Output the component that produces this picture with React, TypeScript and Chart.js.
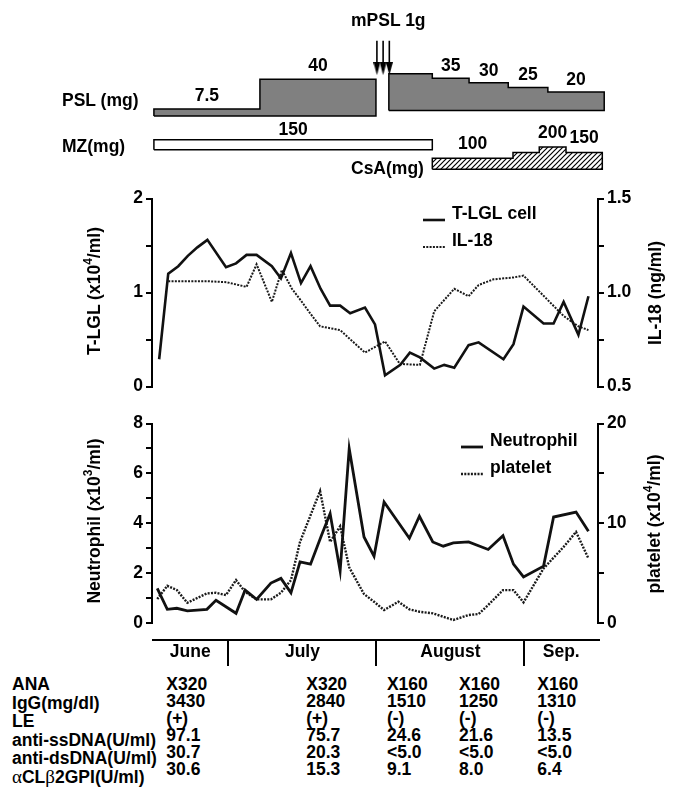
import React, { useEffect, useRef } from 'react';
import { Chart, registerables } from 'chart.js';

Chart.register(...registerables);

const FONT_FAMILY = "'Liberation Sans', Arial, Helvetica, sans-serif";
const FONT_SIZE = 17.5;
const CANVAS_FONT = `bold ${FONT_SIZE}px ${FONT_FAMILY}`;
Chart.defaults.font.family = FONT_FAMILY;
Chart.defaults.font.size = FONT_SIZE;
(Chart.defaults.font as any).weight = 'bold';
Chart.defaults.color = '#000';

/* ---------------- data (day 0 = 1 June) ---------------- */
const months = ['June', 'July', 'August', 'Sep.'];
const monthStartDays = [0, 30, 61, 92, 122];

const tlglDays = [15.5, 17.4, 19.5, 21.5, 23.5, 25.6, 29.5, 31.6, 33.8, 35.9, 39.1, 41.0, 43.1, 45.2, 47.2, 49.3, 51.3, 53.4, 55.5, 58.6, 60.7, 62.8, 66.0, 68.0, 70.1, 73.1, 75.2, 77.3, 80.3, 82.4, 87.6, 89.7, 91.8, 96.0, 98.1, 100.2, 103.3, 105.4];
const tlglValues = [0.29, 1.2, 1.28, 1.39, 1.48, 1.56, 1.27, 1.31, 1.4, 1.4, 1.28, 1.15, 1.42, 1.1, 1.28, 1.04, 0.86, 0.86, 0.78, 0.84, 0.66, 0.12, 0.23, 0.36, 0.31, 0.19, 0.23, 0.2, 0.44, 0.47, 0.29, 0.45, 0.85, 0.67, 0.67, 0.9, 0.55, 0.96];

const il18Days = [17.4, 21.5, 25.6, 29.6, 33.8, 35.9, 39.1, 41.2, 43.3, 45.1, 47.1, 49.2, 53.4, 58.6, 62.8, 65.9, 70.1, 73.1, 77.3, 80.3, 82.4, 85.5, 89.7, 91.8, 100.2, 103.3, 105.4];
const il18Values = [1.06, 1.06, 1.06, 1.055, 1.03, 1.15, 0.95, 1.12, 1.02, 0.96, 0.89, 0.82, 0.8, 0.68, 0.74, 0.62, 0.615, 0.9, 1.02, 0.98, 1.04, 1.07, 1.08, 1.09, 0.875, 0.82, 0.8];

const neutrophilDays = [15.1, 17.2, 19.2, 21.4, 25.5, 27.4, 31.6, 33.5, 35.9, 38.9, 41.0, 43.1, 45.0, 47.2, 49.5, 51.3, 53.4, 55.3, 58.4, 60.5, 62.6, 67.9, 70.0, 72.8, 75.0, 77.1, 80.3, 84.4, 87.5, 89.7, 91.8, 96.0, 98.1, 102.8, 105.4];
const neutrophilValues = [1.39, 0.55, 0.59, 0.49, 0.55, 0.91, 0.39, 1.32, 0.95, 1.6, 1.79, 1.21, 2.45, 2.36, 3.52, 4.39, 2.09, 6.99, 3.45, 2.68, 4.85, 3.4, 4.28, 3.25, 3.08, 3.21, 3.25, 2.95, 3.5, 2.36, 1.85, 2.28, 4.25, 4.45, 3.68];

const plateletDays = [15.1, 17.2, 19.2, 21.4, 25.5, 27.4, 29.5, 31.6, 33.5, 35.9, 38.9, 41.0, 43.1, 45.0, 47.2, 49.2, 51.3, 53.4, 55.3, 58.4, 60.5, 62.6, 65.6, 67.9, 70.0, 72.8, 77.1, 80.3, 82.4, 84.4, 87.5, 89.7, 91.8, 96.0, 100.2, 102.8, 105.4];
const plateletValues = [2.4, 3.73, 3.3, 2.03, 2.97, 3.03, 2.8, 4.3, 3.13, 2.37, 2.37, 3.03, 4.3, 8.13, 10.8, 13.23, 8.13, 9.7, 5.57, 2.9, 2.13, 1.3, 2.13, 1.37, 1.13, 0.97, 0.3, 0.8, 0.9, 1.8, 3.3, 3.3, 2.07, 5.47, 7.63, 9.13, 6.47];

const pslPhase1Days = [14.4, 36.6, 60.9];
const pslPhase1Doses = [7.5, 40];
const pslPhase1Labels = ['7.5', '40'];
const mpslPulseDays = [61.1, 62.4, 63.7];
const pslPhase2Days = [63.6, 72.7, 80.4, 88.6, 96.9, 108.7];
const pslPhase2Doses = [40, 35, 30, 25, 20];
const pslPhase2Labels = ['', '35', '30', '25', '20'];
const mzDays = [14.4, 72.7];
const mzDoses = [150];
const mzLabels = ['150'];
const csaDays = [72.7, 89.6, 95.1, 100.7, 108.3];
const csaDoses = [100, 150, 200, 150];
const csaLabels = ['100', '', '200', '150'];

const tableRowLabels = ['ANA', 'IgG(mg/dl)', 'LE', 'anti-ssDNA(U/ml)', 'anti-dsDNA(U/ml)', 'αCLβ2GPI(U/ml)'];
const testDays = [17.0, 46.3, 63.2, 78.3, 94.7];
const anaValues = ['X320', 'X320', 'X160', 'X160', 'X160'];
const iggValues = ['3430', '2840', '1510', '1250', '1310'];
const leValues = ['(+)', '(+)', '(-)', '(-)', '(-)'];
const antiSsDnaValues = ['97.1', '75.7', '24.6', '21.6', '13.5'];
const antiDsDnaValues = ['30.7', '20.3', '<5.0', '<5.0', '<5.0'];
const aclB2gpiValues = ['30.6', '15.3', '9.1', '8.0', '6.4'];
const tableRows = [anaValues, iggValues, leValues, antiSsDnaValues, antiDsDnaValues, aclB2gpiValues];

/* ---------------- layout ---------------- */
const W = 677;
const X_MIN = 14;
const X_MAX = 107.4;
const PLOT_LEFT = 152;
const PLOT_RIGHT = 598;
const AXIS_W = 40;
const PX_PER_DAY = (PLOT_RIGHT - PLOT_LEFT) / (X_MAX - X_MIN);
const dayToPx = (d: number) => PLOT_LEFT + (d - X_MIN) * PX_PER_DAY;

const TOP_H = 185;
const TOP_LEFT = 150;
const TOP_RIGHT = 612;
const ARROW_TOP_PX = 36;
const ARROW_TIP_PX = 73;

const xy = (xs: number[], ys: number[]) => xs.map((x, i) => ({ x, y: ys[i] }));

function stepOutline(days: number[], doses: number[]) {
  const pts = [{ x: days[0], y: 0 }];
  doses.forEach((d, i) => {
    pts.push({ x: days[i], y: d });
    pts.push({ x: days[i + 1], y: d });
  });
  pts.push({ x: days[days.length - 1], y: 0 });
  pts.push({ x: days[0], y: 0 });
  return pts;
}

// hidden axis whose value 0 sits at pixel p0, k pixels per unit
const axisFor = (p0: number, k: number) => ({
  type: 'linear' as const,
  display: false,
  min: (p0 - TOP_H) / k,
  max: p0 / k,
});

function makeTreatmentConfig(canvas: HTMLCanvasElement): any {
  const ctx = canvas.getContext('2d')!;
  const hatch = document.createElement('canvas');
  hatch.width = 5;
  hatch.height = 5;
  const h = hatch.getContext('2d')!;
  h.fillStyle = '#fff';
  h.fillRect(0, 0, 5, 5);
  h.strokeStyle = '#000';
  h.lineWidth = 1.2;
  h.beginPath();
  h.moveTo(-1, 6); h.lineTo(6, -1);
  h.moveTo(-1, 1); h.lineTo(1, -1);
  h.moveTo(4, 6); h.lineTo(6, 4);
  h.stroke();
  const pattern = ctx.createPattern(hatch, 'repeat');

  const head = document.createElement('canvas');
  head.width = 7;
  head.height = 13;
  const a = head.getContext('2d')!;
  a.fillStyle = '#000';
  a.beginPath();
  a.moveTo(0, 0); a.lineTo(7, 0); a.lineTo(3.5, 13); a.closePath();
  a.fill();

  const area = (data: any, axis: string, bg: any) => ({
    type: 'line',
    data,
    yAxisID: axis,
    fill: 'shape',
    backgroundColor: bg,
    borderColor: '#000',
    borderWidth: 1.5,
    borderJoinStyle: 'miter',
    pointRadius: 0,
    tension: 0,
  });

  const arrows = mpslPulseDays.map((d) => ({
    type: 'line',
    data: [{ x: d, y: ARROW_TOP_PX }, { x: d, y: ARROW_TIP_PX - 6.5 }],
    yAxisID: 'yPx',
    borderColor: '#000',
    borderWidth: 1.6,
    pointRadius: [0, 6],
    pointStyle: head,
    fill: false,
  }));

  const groups = [
    { days: pslPhase1Days, doses: pslPhase1Doses, labels: pslPhase1Labels, axis: 'yPsl1', off: 13 },
    { days: pslPhase2Days, doses: pslPhase2Doses, labels: pslPhase2Labels, axis: 'yPsl2', off: 12 },
    { days: mzDays, doses: mzDoses, labels: mzLabels, axis: 'yMz', off: 10 },
    { days: csaDays, doses: csaDoses, labels: csaLabels, axis: 'yCsa', off: 14 },
  ];

  const doseLabelPlugin = {
    id: 'doseLabels',
    afterDatasetsDraw(chart: any) {
      const c = chart.ctx;
      const x = chart.scales.x;
      c.save();
      c.font = CANVAS_FONT;
      c.fillStyle = '#000';
      c.textAlign = 'center';
      c.textBaseline = 'middle';
      groups.forEach((g) => {
        const ys = chart.scales[g.axis];
        g.doses.forEach((dose, i) => {
          if (!g.labels[i]) return;
          const px = x.getPixelForValue((g.days[i] + g.days[i + 1]) / 2);
          const py = ys.getPixelForValue(dose) - g.off;
          c.fillText(g.labels[i], px, py);
        });
      });
      c.restore();
    },
  };

  return {
    type: 'line',
    data: {
      datasets: [
        area(stepOutline(pslPhase1Days, pslPhase1Doses), 'yPsl1', '#808080'),
        area(stepOutline(pslPhase2Days, pslPhase2Doses), 'yPsl2', '#808080'),
        area(stepOutline(mzDays, mzDoses), 'yMz', '#ffffff'),
        area(stepOutline(csaDays, csaDoses), 'yCsa', pattern),
        ...arrows,
      ],
    },
    options: {
      responsive: false,
      animation: false,
      devicePixelRatio: 1,
      events: [],
      layout: { padding: { left: TOP_LEFT, right: W - TOP_RIGHT, top: 0, bottom: 0 } },
      scales: {
        x: {
          type: 'linear',
          display: false,
          min: X_MIN + (TOP_LEFT - PLOT_LEFT) / PX_PER_DAY,
          max: X_MIN + (TOP_RIGHT - PLOT_LEFT) / PX_PER_DAY,
        },
        yPsl1: axisFor(118, 1),
        yPsl2: axisFor(112, 1),
        yMz: axisFor(155, 11 / 150),
        yCsa: axisFor(176, 0.12),
        yPx: { type: 'linear', display: false, min: 0, max: TOP_H, reverse: true },
      },
      plugins: { legend: { display: false }, tooltip: { enabled: false } },
    },
    plugins: [doseLabelPlugin],
  };
}

const valueAxis = (position: 'left' | 'right', min: number, max: number, step: number, fmt: (v: number) => string) => ({
  type: 'linear' as const,
  position,
  min,
  max,
  ticks: {
    stepSize: step,
    autoSkip: false,
    padding: 3,
    color: '#000',
    font: { family: FONT_FAMILY, size: FONT_SIZE, weight: 'bold' as const },
    callback: (v: any) => fmt(Number(v)),
  },
  grid: { drawOnChartArea: false, drawTicks: true, tickLength: 6, color: '#000', lineWidth: 2 },
  border: { display: true, color: '#000', width: 2 },
  afterFit: (s: any) => {
    s.width = AXIS_W;
  },
});

function legendPlugin(lx: number, cy: number, gap: number) {
  return {
    id: 'customLegend',
    afterDraw(chart: any) {
      const c = chart.ctx;
      chart.data.datasets.forEach((ds: any, i: number) => {
        const y = cy + i * gap;
        c.save();
        c.strokeStyle = ds.borderColor;
        c.lineWidth = ds.borderWidth;
        c.setLineDash(ds.borderDash || []);
        c.beginPath();
        c.moveTo(lx, y + 6);
        c.lineTo(lx + 22, y + 6);
        c.stroke();
        c.setLineDash([]);
        c.font = CANVAS_FONT;
        c.fillStyle = '#000';
        c.textAlign = 'left';
        c.textBaseline = 'middle';
        c.fillText(ds.label, lx + 29, y);
        c.restore();
      });
    },
  };
}

const monthAxisPlugin = {
  id: 'monthAxis',
  afterDraw(chart: any) {
    const { ctx, chartArea } = chart;
    const x = chart.scales.x;
    const y0 = chartArea.bottom + 17;
    ctx.save();
    ctx.strokeStyle = '#000';
    ctx.lineWidth = 2;
    ctx.beginPath();
    ctx.moveTo(chartArea.left, y0);
    ctx.lineTo(chartArea.right + 2, y0);
    ctx.stroke();
    monthStartDays.forEach((d) => {
      if (d > x.min && d < x.max) {
        const px = Math.round(x.getPixelForValue(d));
        ctx.beginPath();
        ctx.moveTo(px, y0);
        ctx.lineTo(px, y0 + 26);
        ctx.stroke();
      }
    });
    ctx.font = CANVAS_FONT;
    ctx.fillStyle = '#000';
    ctx.textAlign = 'center';
    ctx.textBaseline = 'middle';
    months.forEach((m, i) => {
      const a = Math.max(monthStartDays[i], x.min);
      const b = Math.min(monthStartDays[i + 1], x.max);
      if (b > a) ctx.fillText(m, x.getPixelForValue((a + b) / 2), y0 + 12);
    });
    ctx.restore();
  },
};

const solid = (label: string, data: any, axis: string, width: number) => ({
  label,
  data,
  yAxisID: axis,
  borderColor: '#111',
  borderWidth: width,
  borderJoinStyle: 'miter',
  pointRadius: 0,
  tension: 0,
  fill: false,
});
const dotted = (label: string, data: any, axis: string, width: number) => ({
  label,
  data,
  yAxisID: axis,
  borderColor: '#1a1a1a',
  borderWidth: width,
  borderDash: [2, 1.3],
  pointRadius: 0,
  tension: 0,
  fill: false,
});

function makeLglConfig(): any {
  return {
    type: 'line',
    data: {
      datasets: [
        solid('T-LGL cell', xy(tlglDays, tlglValues), 'y', 2.6),
        dotted('IL-18', xy(il18Days, il18Values), 'y1', 2),
      ],
    },
    options: {
      responsive: false,
      animation: false,
      devicePixelRatio: 1,
      events: [],
      layout: { padding: { left: PLOT_LEFT - AXIS_W, right: W - PLOT_RIGHT - AXIS_W, top: 13, bottom: 12 } },
      scales: {
        x: { type: 'linear', min: X_MIN, max: X_MAX, display: false },
        y: valueAxis('left', 0, 2, 0.5, (v) => (Number.isInteger(v) ? String(v) : '')),
        y1: valueAxis('right', 0.5, 1.5, 0.25, (v) => (Math.abs(v * 2 - Math.round(v * 2)) < 1e-9 ? v.toFixed(1) : '')),
      },
      plugins: { legend: { display: false }, tooltip: { enabled: false } },
    },
    plugins: [legendPlugin(423, 29, 27)],
  };
}

function makeBloodConfig(): any {
  return {
    type: 'line',
    data: {
      datasets: [
        solid('Neutrophil', xy(neutrophilDays, neutrophilValues), 'y', 2.8),
        dotted('platelet', xy(plateletDays, plateletValues), 'y1', 2.4),
      ],
    },
    options: {
      responsive: false,
      animation: false,
      devicePixelRatio: 1,
      events: [],
      layout: { padding: { left: PLOT_LEFT - AXIS_W, right: W - PLOT_RIGHT - AXIS_W, top: 13, bottom: 47 } },
      scales: {
        x: { type: 'linear', min: X_MIN, max: X_MAX, display: false },
        y: valueAxis('left', 0, 8, 1, (v) => (v % 2 === 0 ? String(v) : '')),
        y1: valueAxis('right', 0, 20, 5, (v) => (v % 10 === 0 ? String(v) : '')),
      },
      plugins: { legend: { display: false }, tooltip: { enabled: false } },
    },
    plugins: [legendPlugin(461, 31, 27), monthAxisPlugin],
  };
}

function ChartCanvas({ top, height, makeConfig }: { top: number; height: number; makeConfig: (c: HTMLCanvasElement) => any }) {
  const ref = useRef<HTMLCanvasElement>(null);
  useEffect(() => {
    const canvas = ref.current!;
    const chart = new Chart(canvas, makeConfig(canvas));
    return () => chart.destroy();
  }, []);
  return (
    <canvas
      ref={ref}
      width={W}
      height={height}
      style={{ position: 'absolute', left: 0, top, width: W, height, display: 'block' }}
    />
  );
}

const supStyle: React.CSSProperties = { fontSize: 12, verticalAlign: 'baseline', position: 'relative', top: -8 };

function AxisTitle({ cx, cy, children }: { cx: number; cy: number; children: React.ReactNode }) {
  return (
    <div
      style={{
        position: 'absolute',
        left: cx,
        top: cy,
        transform: 'translate(-50%, -50%) rotate(-90deg)',
        whiteSpace: 'nowrap',
        lineHeight: '22px',
      }}
    >
      {children}
    </div>
  );
}

const Label = ({ left, cy, children }: { left: number; cy: number; children: React.ReactNode }) => (
  <div style={{ position: 'absolute', left, top: cy - 11, height: 22, lineHeight: '22px', whiteSpace: 'nowrap' }}>{children}</div>
);

const renderGreek = (s: string) =>
  Array.from(s).map((ch, i) =>
    /[αβ]/.test(ch) ? (
      <span key={i} style={{ fontFamily: "'Liberation Serif', 'DejaVu Serif', serif", fontWeight: 'normal', fontSize: 19 }}>
        {ch}
      </span>
    ) : (
      <React.Fragment key={i}>{ch}</React.Fragment>
    )
  );

const labelRowY = [684, 702.5, 721, 739.5, 758, 776.5];
const valueRowY = [684, 701, 718, 735, 752, 769];

export default function App() {
  return (
    <div
      style={{
        position: 'absolute',
        left: 0,
        top: 0,
        width: W,
        height: 795,
        background: '#fff',
        overflow: 'hidden',
        fontFamily: FONT_FAMILY,
        fontWeight: 'bold',
        fontSize: FONT_SIZE,
        color: '#000',
      }}
    >
      <ChartCanvas top={0} height={TOP_H} makeConfig={makeTreatmentConfig} />
      <ChartCanvas top={185} height={215} makeConfig={makeLglConfig} />
      <ChartCanvas top={410} height={260} makeConfig={makeBloodConfig} />

      <Label left={351} cy={20}>mPSL 1g</Label>
      <Label left={62} cy={100}>PSL (mg)</Label>
      <Label left={62} cy={146}>MZ(mg)</Label>
      <Label left={351} cy={168}>CsA(mg)</Label>

      <AxisTitle cx={95} cy={291}>
        T-LGL (x10<sup style={supStyle}>4</sup>/ml)
      </AxisTitle>
      <AxisTitle cx={655} cy={293}>IL-18 (ng/ml)</AxisTitle>
      <AxisTitle cx={95} cy={521}>
        Neutrophil (x10<sup style={supStyle}>3</sup>/ml)
      </AxisTitle>
      <AxisTitle cx={655} cy={524}>
        platelet (x10<sup style={supStyle}>4</sup>/ml)
      </AxisTitle>

      {tableRowLabels.map((l, r) => (
        <Label key={'l' + r} left={12} cy={labelRowY[r]}>
          {renderGreek(l)}
        </Label>
      ))}
      {tableRows.map((row, r) =>
        row.map((v, c) => (
          <Label key={`v${r}-${c}`} left={dayToPx(testDays[c])} cy={valueRowY[r]}>
            {v}
          </Label>
        ))
      )}
    </div>
  );
}
